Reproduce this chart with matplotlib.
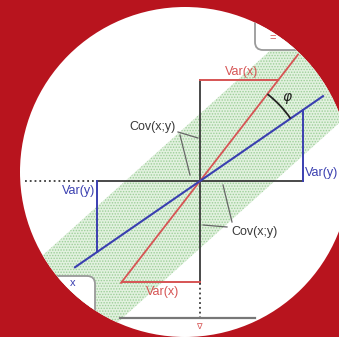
import numpy as np
import matplotlib
matplotlib.use("Agg")
import matplotlib.pyplot as plt
from matplotlib.patches import Circle, Polygon, Arc, FancyBboxPatch

plt.rcParams['font.family'] = ['Liberation Sans', 'DejaVu Sans']
plt.rcParams['hatch.linewidth'] = 0.7

# Regression-line sketch: slopes and variance segments
k_red = 1.29          # regression of x on y
k_blue = 0.69         # regression of y on x
var_x_height = 101    # height where the Var(x) segments sit
var_y_width = 103     # x where the Var(y) segments sit
axis_half = 102
red_span = [-79, 98]
blue_span = [-125, 123]
dotted_h = [-175, -axis_half]
dotted_v = [-axis_half, -140]
band_slope = 0.9
band_half_width = 50
phi_radius = 110

labels_var = ["Var(x)", "Var(y)"]
label_cov = "Cov(x;y)"

RED_BG = "#b8141e"
RED = "#d65454"
BLUE = "#3a3fb0"
DARK = "#3a3a3a"

fig = plt.figure(figsize=(3.39, 3.37), dpi=100)
fig.patch.set_facecolor(RED_BG)
ax = fig.add_axes([0, 0, 1, 1])
ax.set_xlim(-200, 139)
ax.set_ylim(-156, 181)
ax.set_aspect('equal')
ax.axis('off')

disc = Circle((-15, 9), 165, facecolor="white", edgecolor="none", zorder=0)
ax.add_patch(disc)
clip = Circle((-15, 9), 165, transform=ax.transData)


def clipped(artist):
    artist.set_clip_path(clip)
    return artist


# green band around the point cloud
ang = np.arctan(band_slope)
d = np.array([np.cos(ang), np.sin(ang)])
n = np.array([-np.sin(ang), np.cos(ang)])
L = 300
corners = [L * d + band_half_width * n, L * d - band_half_width * n,
           -L * d - band_half_width * n, -L * d + band_half_width * n]
band = Polygon(corners, closed=True, facecolor="#e2f1df", edgecolor="#9ccf98",
               hatch="......", linewidth=0, zorder=1)
ax.add_patch(clipped(band))

# axes cross
for xs, ys, ls in [([-axis_half, var_y_width], [0, 0], '-'),
                   ([0, 0], [-axis_half, var_x_height], '-'),
                   (dotted_h, [0, 0], ':'),
                   ([0, 0], dotted_v, ':')]:
    line, = ax.plot(xs, ys, color=DARK, lw=1.3, ls=ls, zorder=3)
    clipped(line)

# bottom frame line
line, = ax.plot([-80, 55], [-137, -137], color="#777777", lw=1.6, zorder=3)
clipped(line)

# regression lines
xr = np.array(red_span)
line, = ax.plot(xr, k_red * xr, color=RED, lw=1.3, zorder=4)
clipped(line)
xb = np.array(blue_span)
line, = ax.plot(xb, k_blue * xb, color=BLUE, lw=1.5, zorder=5)
clipped(line)

# Var(x) segments
x_top = var_x_height / k_red
ax.plot([0, x_top], [var_x_height, var_x_height], color=RED, lw=1.4, zorder=4)
ax.plot([0, -x_top], [-var_x_height, -var_x_height], color=RED, lw=1.4, zorder=4)

# Var(y) segments
y_side = k_blue * var_y_width
ax.plot([var_y_width, var_y_width], [0, y_side], color=BLUE, lw=1.4, zorder=4)
ax.plot([-var_y_width, -var_y_width], [0, -y_side], color=BLUE, lw=1.4, zorder=4)

# angle between the two lines
arc = Arc((0, 0), 2 * phi_radius, 2 * phi_radius,
          theta1=np.degrees(np.arctan(k_blue)), theta2=np.degrees(np.arctan(k_red)),
          color="#222222", lw=1.3, zorder=6)
ax.add_patch(arc)
ax.text(87, 83, r"$\varphi$", fontsize=10, color="#222222", ha="center", va="center",
        zorder=7)

# labels
ax.text(x_top / 2 + 2, var_x_height + 8, labels_var[0], color=RED, fontsize=9,
        ha="center", va="center", zorder=7)
ax.text(-x_top / 2 + 2, -var_x_height - 10, labels_var[0], color=RED, fontsize=9,
        ha="center", va="center", zorder=7)
ax.text(var_y_width + 2, 8, labels_var[1], color=BLUE, fontsize=9,
        ha="left", va="center", zorder=7, clip_on=True)
ax.text(-var_y_width - 2, -10, labels_var[1], color=BLUE, fontsize=9,
        ha="right", va="center", zorder=7)

ax.text(-48, 54, label_cov, color=DARK, fontsize=9, ha="center", va="center", zorder=7)
ax.text(55, -51, label_cov, color=DARK, fontsize=9, ha="center", va="center", zorder=7)
for xs, ys in [([-22, -2], [49, 43]), ([-20, -10], [46, 6]),
               ([23, 32], [-4, -41]), ([3, 27], [-44, -46])]:
    ax.plot(xs, ys, color="#666666", lw=0.9, zorder=6)

ax.text(0, -145, r"$\nabla$", color=RED, fontsize=6, ha="center", va="center", zorder=7)

# partial inset boxes at the corners
for (x0, y0), txt, pos in [((55, 131), "=", (73, 143)), ((-190, -170), "x", (-127, -102))]:
    box = FancyBboxPatch((x0, y0), 85, 75, boxstyle="round,pad=0,rounding_size=8",
                         facecolor="white", edgecolor="#9a9a9a", lw=1.3, zorder=2)
    ax.add_patch(clipped(box))
    t = ax.text(pos[0], pos[1], txt, color=RED if txt == "=" else BLUE, fontsize=8,
                ha="center", va="center", zorder=7)
    clipped(t)

fig.savefig("out.png", dpi=100, facecolor=fig.get_facecolor())
